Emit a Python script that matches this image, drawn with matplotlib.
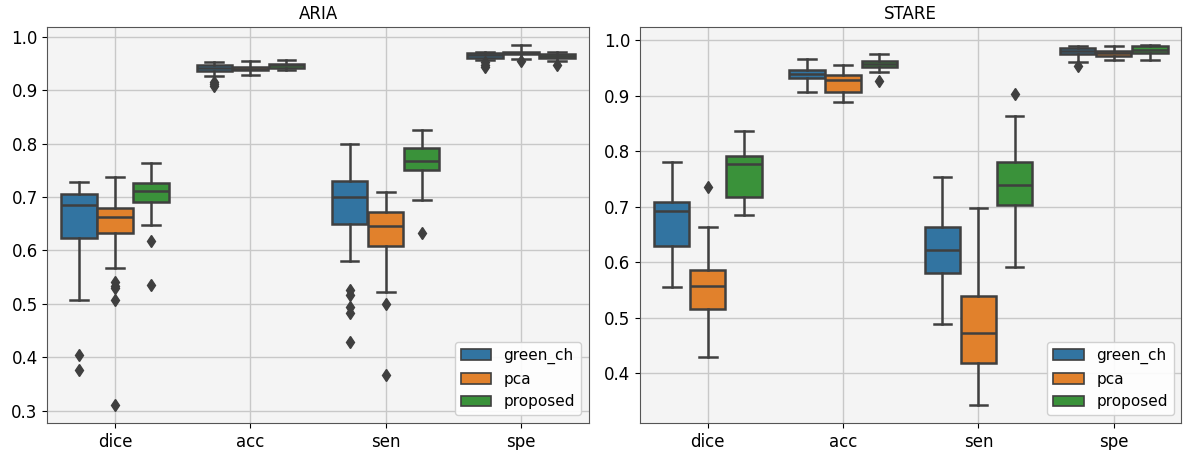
import matplotlib.pyplot as plt
from matplotlib.patches import Patch
import numpy as np

metrics = ["dice", "acc", "sen", "spe"]
methods = ["green_ch", "pca", "proposed"]
colors = ["#3274a1", "#e1812c", "#3a923a"]

# per dataset, per method: one row per metric -> (whislo, q1, med, q3, whishi)
aria_green = [(0.507, 0.624, 0.684, 0.706, 0.728),
              (0.927, 0.936, 0.941, 0.946, 0.952),
              (0.580, 0.650, 0.699, 0.729, 0.799),
              (0.957, 0.960, 0.965, 0.969, 0.972)]
aria_pca = [(0.567, 0.632, 0.663, 0.679, 0.738),
            (0.928, 0.937, 0.940, 0.944, 0.954),
            (0.523, 0.609, 0.645, 0.672, 0.709),
            (0.959, 0.968, 0.970, 0.972, 0.984)]
aria_prop = [(0.647, 0.690, 0.712, 0.727, 0.764),
             (0.937, 0.942, 0.946, 0.949, 0.957),
             (0.695, 0.750, 0.768, 0.792, 0.826),
             (0.954, 0.960, 0.964, 0.967, 0.972)]
aria_fliers_green = [[0.404, 0.377], [0.916, 0.912, 0.908], [0.525, 0.516, 0.494, 0.483, 0.429], [0.952, 0.947, 0.944]]
aria_fliers_pca = [[0.541, 0.534, 0.529, 0.508, 0.311], [], [0.500, 0.366], [0.955]]
aria_fliers_prop = [[0.617, 0.535], [], [0.633], [0.947]]

stare_green = [(0.555, 0.630, 0.692, 0.708, 0.781),
               (0.907, 0.932, 0.940, 0.946, 0.966),
               (0.488, 0.580, 0.622, 0.664, 0.754),
               (0.960, 0.975, 0.981, 0.986, 0.990)]
stare_pca = [(0.429, 0.515, 0.557, 0.585, 0.663),
             (0.888, 0.907, 0.928, 0.937, 0.956),
             (0.342, 0.419, 0.472, 0.539, 0.698),
             (0.964, 0.971, 0.977, 0.981, 0.989)]
stare_prop = [(0.685, 0.718, 0.777, 0.792, 0.836),
              (0.943, 0.951, 0.957, 0.962, 0.975),
              (0.592, 0.703, 0.739, 0.781, 0.864),
              (0.964, 0.977, 0.983, 0.989, 0.992)]
stare_fliers_green = [[], [], [], [0.954]]
stare_fliers_pca = [[0.735], [], [], []]
stare_fliers_prop = [[], [0.926], [0.904], []]

datasets = [
    ("ARIA", [aria_green, aria_pca, aria_prop],
     [aria_fliers_green, aria_fliers_pca, aria_fliers_prop], (0.277, 1.018)),
    ("STARE", [stare_green, stare_pca, stare_prop],
     [stare_fliers_green, stare_fliers_pca, stare_fliers_prop], (0.31, 1.024)),
]

fig, axes = plt.subplots(1, 2, figsize=(11.85, 4.5), dpi=100)
fig.subplots_adjust(left=0.04, right=0.997, top=0.94, bottom=0.06, wspace=0.095)

line_c = "#3f3f3f"
w = 0.8 / 3
for ax, (title, stats, fliers, ylim) in zip(axes, datasets):
    ax.set_facecolor("#f4f4f4")
    ax.grid(True, color="#c8c8c8", linewidth=1)
    ax.set_axisbelow(True)
    for j in range(3):
        bxp = []
        for i in range(4):
            lo, q1, med, q3, hi = stats[j][i]
            bxp.append(dict(whislo=lo, q1=q1, med=med, q3=q3, whishi=hi,
                            fliers=fliers[j][i]))
        pos = np.arange(4) + (j - 1) * w
        ax.bxp(bxp, positions=pos, widths=w * 0.98, patch_artist=True,
               showfliers=True, manage_ticks=False,
               boxprops=dict(facecolor=colors[j], edgecolor=line_c, linewidth=1.8),
               medianprops=dict(color=line_c, linewidth=1.8),
               whiskerprops=dict(color=line_c, linewidth=1.8),
               capprops=dict(color=line_c, linewidth=1.8),
               flierprops=dict(marker="d", markerfacecolor=line_c,
                               markeredgecolor=line_c, markersize=6))
    ax.set_xticks(range(4))
    ax.set_xticklabels(metrics, fontsize=12)
    ax.set_xlim(-0.5, 3.5)
    ax.set_ylim(*ylim)
    ax.tick_params(axis="y", labelsize=12)
    ax.set_title(title, fontsize=12)
    for s in ax.spines.values():
        s.set_color("#555555")
    handles = [Patch(facecolor=c, edgecolor=line_c, linewidth=1.2, label=m)
               for c, m in zip(colors, methods)]
    ax.legend(handles=handles, loc="lower right", fontsize=11, framealpha=0.9)

plt.savefig("out.png")
